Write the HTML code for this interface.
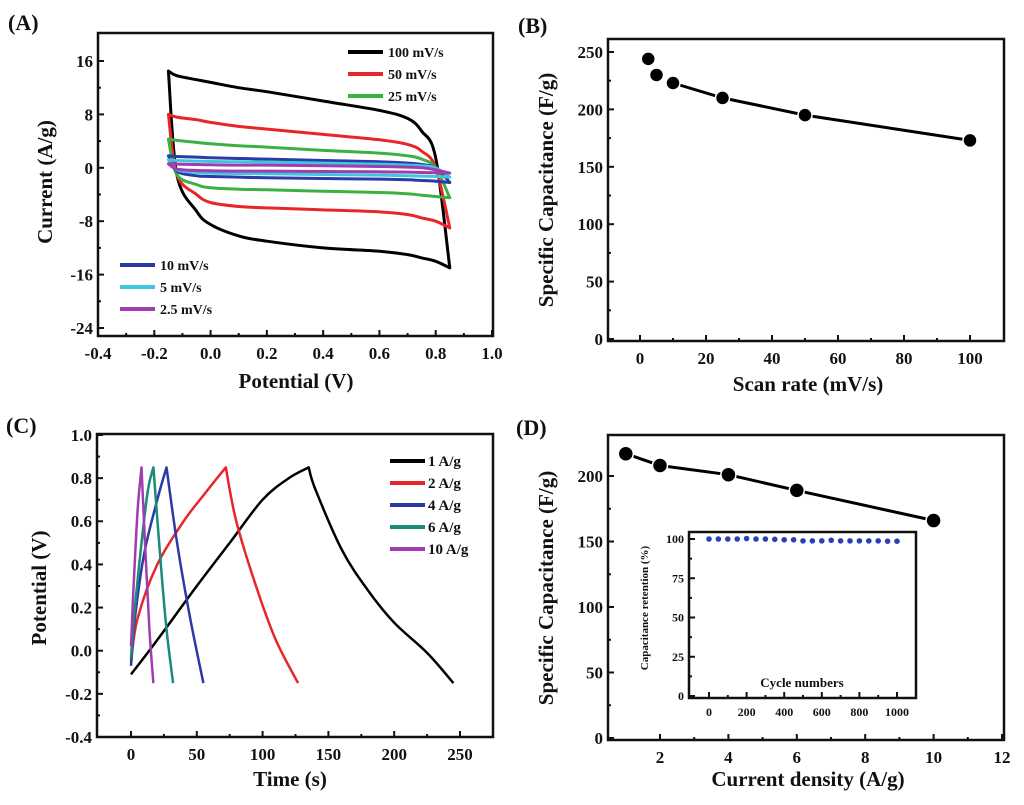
<!DOCTYPE html>
<html><head><meta charset="utf-8"><style>
body{margin:0;background:#fff}
svg{display:block;font-family:"Liberation Serif",serif;font-weight:bold}
</style></head><body>
<svg id="fig" width="1024" height="805" viewBox="0 0 1024 805" xmlns="http://www.w3.org/2000/svg"></svg>
<script>
// ---- Panel A data (CV curves) ----
const cvPotential = [-0.15,-0.12,-0.05,0,0.1,0.2,0.4,0.6,0.7,0.75,0.8,0.85];
const cvRates = ["100 mV/s","50 mV/s","25 mV/s","10 mV/s","5 mV/s","2.5 mV/s"];
const cvUpper100 = [14.5,13.8,13.2,12.8,12.0,11.4,10.0,8.6,7.4,5.5,1.5,-15];
const cvLower100 = [14.5,-1,-6.5,-8.5,-10.2,-11,-12,-12.5,-13,-13.5,-14,-15];
const cvUpper50 = [8,7.6,7.2,6.8,6.2,5.8,5,4.2,3.5,2.5,0,-9];
const cvLower50 = [8,-1,-4,-5.2,-5.8,-6,-6.3,-6.6,-7,-7.5,-8,-9];
const cvUpper25 = [4.3,4.1,3.8,3.6,3.3,3.1,2.6,2.2,1.8,1.3,0,-4.5];
const cvLower25 = [4.3,-1,-2.5,-3,-3.2,-3.3,-3.5,-3.7,-3.9,-4.1,-4.3,-4.5];
const cvUpper10 = [1.8,1.7,1.6,1.5,1.4,1.3,1.1,0.9,0.7,0.5,0,-2.2];
const cvLower10 = [1.8,-0.5,-1.2,-1.3,-1.4,-1.5,-1.6,-1.7,-1.8,-1.9,-2,-2.2];
const cvUpper5 = [1.2,1.1,1.0,0.95,0.9,0.85,0.7,0.55,0.4,0.3,0,-1.4];
const cvLower5 = [1.2,-0.3,-0.7,-0.8,-0.85,-0.9,-1,-1.1,-1.2,-1.25,-1.3,-1.4];
const cvUpper2 = [0.6,0.55,0.5,0.45,0.4,0.4,0.3,0.2,0.1,0,-0.3,-0.8];
const cvLower2 = [0.6,-0.2,-0.4,-0.45,-0.5,-0.5,-0.55,-0.6,-0.65,-0.7,-0.75,-0.8];
const aXTicks = [-0.4,-0.2,0.0,0.2,0.4,0.6,0.8,1.0];
const aYTicks = [-24,-16,-8,0,8,16];
// ---- Panel B ----
const bScan = [2.5,5,10,25,50,100];
const bCap = [244,230,223,210,195,173];
const bXTicks = [0,20,40,60,80,100];
const bYTicks = [0,50,100,150,200,250];
// ---- Panel C (GCD) ----
const cLabels = ["1 A/g","2 A/g","4 A/g","6 A/g","10 A/g"];
const cT1 = [0,20,50,75,100,120,135,140,160,180,200,225,245];
const cV1 = [-0.11,0.05,0.3,0.5,0.7,0.8,0.85,0.75,0.47,0.28,0.13,-0.01,-0.15];
const cT2 = [0,5,20,40,55,72,80,95,110,127];
const cV2 = [-0.05,0.15,0.4,0.6,0.72,0.85,0.6,0.3,0.05,-0.15];
const cT4 = [0,3,10,20,27,35,45,55];
const cV4 = [-0.07,0.15,0.45,0.7,0.85,0.5,0.15,-0.15];
const cT6 = [0,3,8,13,17,22,27,32];
const cV6 = [-0.03,0.2,0.5,0.75,0.85,0.45,0.1,-0.15];
const cT10 = [0,2,5,8,11,14,17];
const cV10 = [0.02,0.3,0.65,0.85,0.45,0.1,-0.15];
const cXTicks = [0,50,100,150,200,250];
const cYTicks = [-0.4,-0.2,0.0,0.2,0.4,0.6,0.8,1.0];
// ---- Panel D ----
const dCurrent = [1,2,4,6,10];
const dCap = [217,208,201,189,166];
const dXTicks = [2,4,6,8,10,12];
const dYTicks = [0,50,100,150,200];
const inCycles = [0,50,100,150,200,250,300,350,400,450,500,550,600,650,700,750,800,850,900,950,1000];
const inRet = [100,100,100,100,100.3,100,100,99.8,99.5,99.5,98.8,98.8,98.8,99.2,98.8,98.8,98.8,98.8,98.8,98.6,98.6];
const inXTicks = [0,200,400,600,800,1000];
const inYTicks = [0,25,50,75,100];

const NS="http://www.w3.org/2000/svg";
const svg=document.getElementById('fig');
function mk(tag,attrs,parent){const e=document.createElementNS(NS,tag);for(const k in attrs)e.setAttribute(k,attrs[k]);(parent||svg).appendChild(e);return e;}
function scale(d0,d1,r0,r1){return v=>r0+(v-d0)/(d1-d0)*(r1-r0);}
function txt(s,x,y,size,anchor,rot,name){const t=mk('text',{x:x,y:y,'font-size':size,'text-anchor':anchor||'middle',fill:'#111'});if(rot)t.setAttribute('transform','rotate(-90 '+x+' '+y+')');t.textContent=s;


return t;}
function axes(p,xs,ys,xt,yt,xfmt,yfmt,fs,name){
  const g=mk('g',{});
  
  
  mk('rect',{x:p.l,y:p.t,width:p.r-p.l,height:p.b-p.t,fill:'none',stroke:'#111','stroke-width':2.5},g);
  for(let i=0;i<xt.length;i++){const x=xs(xt[i]);
    if(x>=p.l-1&&x<=p.r+1){mk('line',{x1:x,x2:x,y1:p.b,y2:p.b-6,stroke:'#111','stroke-width':2},g);
    txt(xfmt(xt[i]),x,p.b+fs+6,fs,'middle',false,'x-tick-label');}
    if(i<xt.length-1){const xm=xs((xt[i]+xt[i+1])/2);if(xm>p.l&&xm<p.r)mk('line',{x1:xm,x2:xm,y1:p.b,y2:p.b-3,stroke:'#111','stroke-width':2},g);}
  }
  for(let i=0;i<yt.length;i++){const y=ys(yt[i]);
    mk('line',{x1:p.l,x2:p.l+6,y1:y,y2:y,stroke:'#111','stroke-width':2},g);
    txt(yfmt(yt[i]),p.l-5,y+fs*0.35,fs,'end',false,'y-tick-label');
    if(i<yt.length-1){const ym=ys((yt[i]+yt[i+1])/2);mk('line',{x1:p.l,x2:p.l+3,y1:ym,y2:ym,stroke:'#111','stroke-width':2},g);}
  }
}
function pathD(xs,ys,X,Y){return X.map((v,i)=>(i?'L':'M')+xs(v).toFixed(1)+','+ys(Y[i]).toFixed(1)).join(' ');}
// Catmull-Rom smoothing through pixel points; returns segments (without initial M if cont)
function smooth(P,cont){let d=cont?'':'M'+P[0][0].toFixed(1)+','+P[0][1].toFixed(1);
 for(let i=0;i<P.length-1;i++){const p0=P[i-1]||P[i],p1=P[i],p2=P[i+1],p3=P[i+2]||P[i+1];
  const c1=[p1[0]+(p2[0]-p0[0])/6,p1[1]+(p2[1]-p0[1])/6],c2=[p2[0]-(p3[0]-p1[0])/6,p2[1]-(p3[1]-p1[1])/6];
  d+=' C'+c1.map(v=>v.toFixed(1))+' '+c2.map(v=>v.toFixed(1))+' '+p2.map(v=>v.toFixed(1));}
 return d;}

// Panel A
{const p={l:98,r:493,t:33,b:336};
const xs=scale(-0.4,1.0,98,492), ys=scale(16,-24,61,328);
axes(p,xs,ys,aXTicks,aYTicks,v=>v.toFixed(1),v=>String(v),17,'panel-a-axes');
const series=[[cvUpper100,cvLower100,'#000'],[cvUpper50,cvLower50,'#e8262a'],[cvUpper25,cvLower25,'#3cb043'],[cvUpper10,cvLower10,'#2b3aa8'],[cvUpper5,cvLower5,'#3cc8dc'],[cvUpper2,cvLower2,'#a03cb0']];
series.forEach((s,i)=>{
 const up=cvPotential.map((v,j)=>[xs(v),ys(s[0][j])]);
 const lo=cvPotential.map((v,j)=>[xs(v),ys(s[1][j])]).reverse();
 const d=smooth(up)+' '+smooth(lo,true)+' Z';
 const e=mk('path',{d:d,fill:'none',stroke:s[2],'stroke-width':3,'stroke-linejoin':'round'});
 
 
 const top=i<3, k=top?i:i-3;
 const lx=top?348:120, ly=(top?52:265)+k*22;
 const ln=mk('line',{x1:lx,x2:lx+35,y1:ly,y2:ly,stroke:s[2],'stroke-width':4});
 
 
 txt(cvRates[i],lx+40,ly+5,14,'start',false,'legend-entry');
});
txt('(A)',8,30,22,'start',false,'panel-label-a');
txt('Current (A/g)',52,182,21,'middle',true,'y-axis-title-a');
txt('Potential (V)',296,388,21,'middle',false,'x-axis-title-a');
}
// Panel B
{const p={l:608,r:1004,t:39,b:341};
const xs=scale(0,100,640,970), ys=scale(0,250,339,52);
axes(p,xs,ys,bXTicks,bYTicks,v=>String(v),v=>String(v),17,'panel-b-axes');
const e=mk('path',{d:pathD(xs,ys,bScan.slice(2),bCap.slice(2)),fill:'none',stroke:'#000','stroke-width':3});


bScan.forEach((v,i)=>{const c=mk('circle',{cx:xs(v),cy:ys(bCap[i]),r:7,fill:'#000',stroke:'#fff','stroke-width':1.5});

});
txt('(B)',518,33,22,'start',false,'panel-label-b');
txt('Specific Capacitance (F/g)',553,190,21,'middle',true,'y-axis-title-b');
txt('Scan rate (mV/s)',808,391,21,'middle',false,'x-axis-title-b');
}
// Panel C
{const p={l:97,r:493,t:434,b:737};
const xs=scale(0,250,131,460), ys=scale(-0.4,1.0,737,435);
axes(p,xs,ys,cXTicks,cYTicks,v=>String(v),v=>v.toFixed(1),17,'panel-c-axes');
const S=[[cT1,cV1,'#000'],[cT2,cV2,'#e8262a'],[cT4,cV4,'#2b3aa8'],[cT6,cV6,'#1a8a7a'],[cT10,cV10,'#a03cb0']];
S.forEach((s,i)=>{
 const pts=s[0].map((t,j)=>[xs(t),ys(s[1][j])]);
 let k=0;s[1].forEach((v,j)=>{if(v>s[1][k])k=j;});
 const d=smooth(pts.slice(0,k+1))+' '+smooth(pts.slice(k),true);
 const e=mk('path',{d:d,fill:'none',stroke:s[2],'stroke-width':2.5,'stroke-linejoin':'round'});
 
 
 const ly=461+i*22;
 const ln=mk('line',{x1:390,x2:425,y1:ly,y2:ly,stroke:s[2],'stroke-width':4});
 
 
 txt(cLabels[i],428,ly+5,15,'start',false,'legend-entry');});
txt('(C)',6,433,22,'start',false,'panel-label-c');
txt('Potential (V)',46,588,21,'middle',true,'y-axis-title-c');
txt('Time (s)',290,786,21,'middle',false,'x-axis-title-c');
}
// Panel D
{const p={l:608,r:1004,t:435,b:740};
const xs=scale(2,12,660,1002), ys=scale(0,200,738,476);
axes(p,xs,ys,dXTicks,dYTicks,v=>String(v),v=>String(v),17,'panel-d-axes');
const e=mk('path',{d:pathD(xs,ys,dCurrent,dCap),fill:'none',stroke:'#000','stroke-width':3});


dCurrent.forEach((v,i)=>{const c=mk('circle',{cx:xs(v),cy:ys(dCap[i]),r:7.5,fill:'#000',stroke:'#fff','stroke-width':1.5});

});
// inset
const q={l:689,r:916,t:532,b:698};
const ixs=scale(0,1000,709,897), iys=scale(0,100,696,539);
mk('rect',{x:q.l,y:q.t,width:q.r-q.l,height:q.b-q.t,fill:'#fff',stroke:'none'});
axes(q,ixs,iys,inXTicks,inYTicks,v=>String(v),v=>String(v),12,'inset-axes');
inCycles.forEach((v,i)=>{const c=mk('circle',{cx:ixs(v),cy:iys(inRet[i]),r:2.8,fill:'#2a3fb8'});

});
txt('Cycle numbers',802,687,13,'middle',false,'inset-x-axis-title');
txt('Capacitance retention (%)',648,608,11,'middle',true,'inset-y-axis-title');
txt('(D)',516,435,22,'start',false,'panel-label-d');
txt('Specific Capacitance (F/g)',553,588,21,'middle',true,'y-axis-title-d');
txt('Current density (A/g)',808,786,21,'middle',false,'x-axis-title-d');
}
</script>
</body></html>
